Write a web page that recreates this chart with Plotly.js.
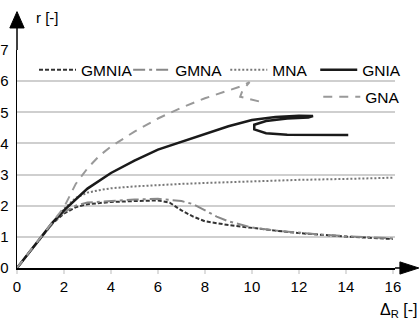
<!DOCTYPE html>
<html>
<head>
<meta charset="utf-8">
<script src="https://cdn.plot.ly/plotly-3.0.1.min.js"></script>
<style>html,body{margin:0;padding:0;background:#fff;}#chart{width:420px;height:324px;}</style>
</head>
<body>
<div id="chart"></div>
<script>
// ---- data ----
var gmniaX = [0, 1.5, 2, 2.5, 3, 4, 5, 6, 6.5, 7, 7.5, 8, 9, 10, 11, 12, 13, 14, 15, 16];
var gmniaY = [0, 1.42, 1.75, 1.95, 2.05, 2.12, 2.15, 2.17, 2.1, 1.85, 1.65, 1.5, 1.38, 1.28, 1.2, 1.12, 1.06, 1.01, 0.97, 0.93];

var gmnaX = [0, 1.5, 2, 2.5, 3, 4, 5, 6, 7, 7.5, 8, 8.5, 9, 9.5, 10, 11, 12, 13, 14, 15, 16];
var gmnaY = [0, 1.42, 1.8, 2.0, 2.1, 2.15, 2.2, 2.22, 2.15, 2.05, 1.85, 1.65, 1.5, 1.4, 1.3, 1.2, 1.13, 1.07, 1.02, 0.98, 0.95];

var mnaX = [0, 1.5, 2, 2.5, 3, 3.5, 4, 5, 6, 7, 8, 9, 10, 11, 12, 14, 16];
var mnaY = [0, 1.45, 1.9, 2.25, 2.42, 2.5, 2.56, 2.62, 2.67, 2.7, 2.73, 2.76, 2.79, 2.81, 2.83, 2.86, 2.9];

var gniaX = [0, 1.5, 2, 3, 4, 5, 6, 7, 8, 9, 10, 11, 12, 12.6, 12.4, 11.5, 10.6, 10.1, 10.1, 10.6, 11.5, 12.5, 14.1];
var gniaY = [0, 1.45, 1.85, 2.55, 3.05, 3.45, 3.8, 4.05, 4.32, 4.55, 4.75, 4.85, 4.89, 4.88, 4.83, 4.8, 4.72, 4.6, 4.45, 4.33, 4.28, 4.27, 4.27];

var gnaX = [0, 1.5, 2, 2.5, 3, 3.5, 4, 5, 6, 7, 8, 9, 9.6, 9.9, 9.6, 9.5, 10.3];
var gnaY = [0, 1.45, 1.95, 2.7, 3.2, 3.6, 3.9, 4.38, 4.8, 5.15, 5.45, 5.7, 5.85, 5.97, 5.7, 5.5, 5.35];

var xTicks = [0, 2, 4, 6, 8, 10, 12, 14, 16];
var yTicks = [0, 1, 2, 3, 4, 5, 6, 7];

var FONT = 'Liberation Sans, Arial, sans-serif';

var traces = [
  {x: gmniaX, y: gmniaY, name: 'GMNIA', mode: 'lines', line: {color: '#333', width: 2, dash: '4px,2px'}, legend: 'legend'},
  {x: gmnaX, y: gmnaY, name: 'GMNA', mode: 'lines', line: {color: '#888', width: 2, dash: '12px,4px,3px,4px'}, legend: 'legend2'},
  {x: mnaX, y: mnaY, name: 'MNA', mode: 'lines', line: {color: '#777', width: 2, dash: '2px,2px'}, legend: 'legend3'},
  {x: gniaX, y: gniaY, name: 'GNIA', mode: 'lines', line: {color: '#1a1a1a', width: 2.5}, legend: 'legend4'},
  {x: gnaX, y: gnaY, name: 'GNA', mode: 'lines', line: {color: '#999', width: 2, dash: '9px,7px'}, legend: 'legend5'}
];

function leg(x, y) {
  return {
    orientation: 'h', x: x, xanchor: 'left', y: y, yanchor: 'middle',
    bgcolor: 'rgba(0,0,0,0)', borderwidth: 0,
    font: {family: FONT, size: 15.5, color: '#000'}, itemwidth: 37
  };
}

var layout = {
  width: 420, height: 324,
  margin: {l: 17, r: 25, t: 50, b: 56},
  paper_bgcolor: '#fff', plot_bgcolor: '#fff',
  font: {family: FONT, size: 15, color: '#000'},
  xaxis: {
    range: [0, 16.09], tickvals: xTicks, ticktext: xTicks.map(String),
    showgrid: false, zeroline: false, showline: true, linecolor: '#000', linewidth: 1.5,
    ticks: 'outside', ticklen: 4, tickwidth: 2, tickcolor: '#ddd',
    tickfont: {family: FONT, size: 15, color: '#000'}, fixedrange: true
  },
  yaxis: {
    range: [0, 7], tickvals: yTicks, ticktext: yTicks.map(String),
    showgrid: true, gridcolor: '#cfcfcf', gridwidth: 2,
    zeroline: false, showline: true, linecolor: '#000', linewidth: 1.5,
    ticks: 'outside', ticklen: 4, tickcolor: 'rgba(0,0,0,0)',
    tickfont: {family: FONT, size: 15, color: '#000'}, fixedrange: true
  },
  showlegend: true,
  legend: leg(0.045, 0.908),
  legend2: leg(0.294, 0.908),
  legend3: leg(0.551, 0.908),
  legend4: leg(0.789, 0.908),
  legend5: leg(0.797, 0.784),
  shapes: [
    // y-axis extension and arrow
    {type: 'line', xref: 'paper', yref: 'paper', x0: 0, x1: 0, y0: 1, y1: 1.11, line: {color: '#000', width: 1.5}},
    {type: 'path', xref: 'paper', yref: 'paper', path: 'M -0.019 1.101 L 0.019 1.101 L 0 1.176 Z', fillcolor: '#000', line: {color: '#000', width: 1}},
    // x-axis extension and arrow
    {type: 'line', xref: 'paper', yref: 'paper', x0: 1, x1: 1.02, y0: 0, y1: 0, line: {color: '#000', width: 1.5}},
    {type: 'path', xref: 'paper', yref: 'paper', path: 'M 1.013 0.028 L 1.013 -0.028 L 1.063 0 Z', fillcolor: '#000', line: {color: '#000', width: 1}}
  ],
  annotations: [
    {text: 'r [-]', xref: 'paper', yref: 'paper', x: 0.082, y: 1.147, showarrow: false, xanchor: 'center', yanchor: 'middle', font: {family: FONT, size: 15, color: '#000'}},
    {text: 'Δ<sub>R</sub> [-]', xref: 'paper', yref: 'paper', x: 1.008, y: -0.193, showarrow: false, xanchor: 'center', yanchor: 'middle', font: {family: FONT, size: 16, color: '#000'}}
  ]
};

Plotly.newPlot('chart', traces, layout, {displayModeBar: false, staticPlot: true});
</script>
</body>
</html>
